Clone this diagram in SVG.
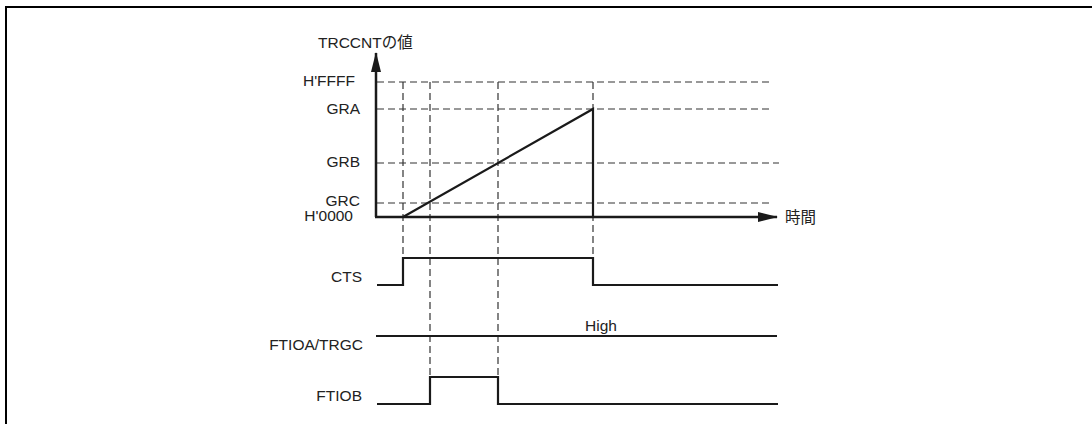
<svg xmlns="http://www.w3.org/2000/svg" width="1092" height="424" viewBox="0 0 1092 424">
<style>
text{font-family:"Liberation Sans","Noto Sans CJK JP",Arial,sans-serif;font-size:15.5px;fill:#222}
.r{text-anchor:end}
.dash{stroke:#333;stroke-width:1.2;stroke-dasharray:7 4;fill:none}
.sig{stroke:#1a1a1a;stroke-width:2.2;fill:none}
.axis{stroke:#1a1a1a;stroke-width:2.5;fill:none}
</style>
<defs>
<marker id="ah" viewBox="0 0 20 10" refX="19" refY="5" markerWidth="20" markerHeight="10" markerUnits="userSpaceOnUse" orient="auto">
<path d="M0,0 L20,5 L0,10 Z" fill="#1a1a1a"/>
</marker>
</defs>
<rect width="1092" height="424" fill="#fff"/>
<path d="M6,424 V7 H1092" fill="none" stroke="#000" stroke-width="2"/>
<g id="grid">
<line class="dash" x1="377" y1="82" x2="772" y2="82"/>
<line class="dash" x1="377" y1="109" x2="772" y2="109"/>
<line class="dash" x1="377" y1="163" x2="779" y2="163"/>
<line class="dash" x1="377" y1="203" x2="772" y2="203"/>
<line class="dash" x1="403" y1="82" x2="403" y2="258"/>
<line class="dash" x1="430" y1="82" x2="430" y2="377"/>
<line class="dash" x1="498" y1="82" x2="498" y2="377"/>
<line class="dash" x1="593" y1="82" x2="593" y2="258"/>
</g>
<g id="axes">
<line class="axis" x1="376" y1="217" x2="376" y2="53" marker-end="url(#ah)"/>
<line class="axis" x1="375" y1="217" x2="777" y2="217" marker-end="url(#ah)"/>
</g>
<g id="counter">
<path class="sig" d="M403,217 L593,109 V217"/>
</g>
<g id="cts">
<path class="sig" d="M377,285 H403 V258 H593 V285 H778"/>
</g>
<g id="ftioa">
<path class="sig" d="M376,336 H777"/>
</g>
<g id="ftiob">
<path class="sig" d="M377,404 H430 V377 H498 V404 H778"/>
</g>
<g id="labels">
<text x="318" y="48">TRCCNTの値</text>
<text class="r" x="355" y="86">H'FFFF</text>
<text class="r" x="360" y="114">GRA</text>
<text class="r" x="360" y="167">GRB</text>
<text class="r" x="360" y="206">GRC</text>
<text class="r" x="353" y="221">H'0000</text>
<text x="785" y="223">時間</text>
<text class="r" x="362" y="282">CTS</text>
<text x="585" y="331">High</text>
<text class="r" x="363" y="350">FTIOA/TRGC</text>
<text class="r" x="362" y="401">FTIOB</text>
</g>
</svg>
